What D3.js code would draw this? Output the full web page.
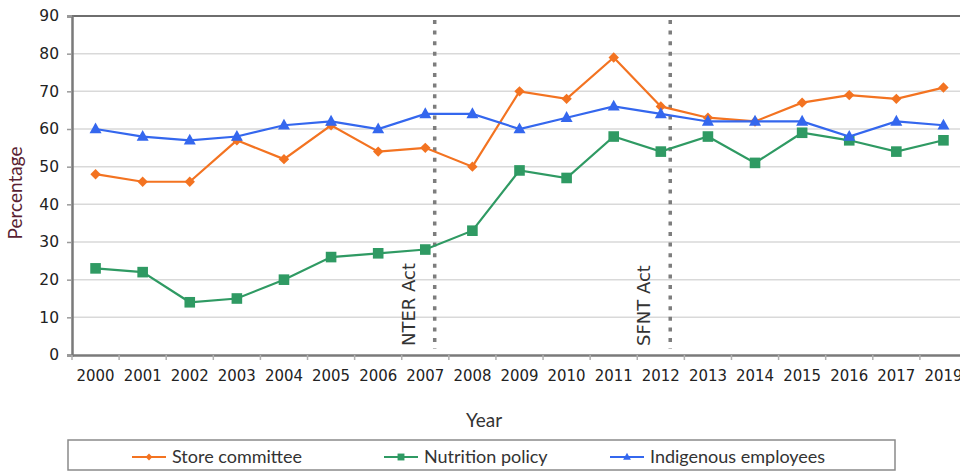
<!DOCTYPE html>
<html>
<head>
<meta charset="utf-8">
<script src="https://cdn.jsdelivr.net/npm/d3@7"></script>
<style>
  html, body { margin: 0; padding: 0; background: #fff; }
  svg { display: block; }
</style>
</head>
<body>
<svg id="chart" width="960" height="472"></svg>
<script>
const years = ["2000","2001","2002","2003","2004","2005","2006","2007","2008","2009","2010","2011","2012","2013","2014","2015","2016","2017","2019"];
const storeCommittee = [48,46,46,57,52,61,54,55,50,70,68,79,66,63,62,67,69,68,71];
const nutritionPolicy = [23,22,14,15,20,26,27,28,33,49,47,58,54,58,51,59,57,54,57];
const indigenousEmployees = [60,58,57,58,61,62,60,64,64,60,63,66,64,62,62,62,58,62,61];
const yTicks = [0,10,20,30,40,50,60,70,80,90];
const events = [{year: "2007", label: "NTER Act"}, {year: "2012", label: "SFNT Act"}];
const seriesNames = ["Store committee", "Nutrition policy", "Indigenous employees"];

const series = [
  {name: seriesNames[0], values: storeCommittee, color: "#f37321", marker: "diamond"},
  {name: seriesNames[1], values: nutritionPolicy, color: "#2f9a63", marker: "square"},
  {name: seriesNames[2], values: indigenousEmployees, color: "#3467ee", marker: "triangle"}
];

const svg = d3.select("#chart");
const pL = 72, pT = 16, pR = 967, pB = 355;

const x = d3.scaleBand().domain(years).range([pL, pR]).padding(0);
const y = d3.scaleLinear().domain([0, 90]).range([pB, pT]);

// gridlines
svg.append("g").selectAll("line").data(yTicks.filter(d => d > 0 && d < 90)).join("line")
  .attr("x1", pL).attr("x2", 960)
  .attr("y1", d => y(d)).attr("y2", d => y(d))
  .attr("stroke", "#d9d9d9").attr("stroke-width", 1.5);

// top border
svg.append("line").attr("x1", pL).attr("x2", 960).attr("y1", y(90)).attr("y2", y(90))
  .attr("stroke", "#6e6e6e").attr("stroke-width", 2);

// y axis
const yAxis = d3.axisLeft(y).tickValues(yTicks).tickSize(5).tickPadding(8);
const gy = svg.append("g").attr("transform", `translate(${pL},0)`).call(yAxis);
gy.select(".domain").attr("stroke", "#7a7a7a").attr("stroke-width", 2.5);
gy.selectAll(".tick line").attr("stroke", "#9a9a9a").attr("stroke-width", 1.5);
gy.selectAll(".tick text").attr("font-family", "DejaVu Sans").attr("font-size", 15.5).attr("fill", "#222");

// x axis
const xAxis = d3.axisBottom(x).tickSize(0).tickPadding(15);
const gx = svg.append("g").attr("transform", `translate(0,${pB})`).call(xAxis);
gx.select(".domain").attr("stroke", "#7a7a7a").attr("stroke-width", 2.5);
gx.selectAll(".tick text").attr("font-family", "DejaVu Sans").attr("font-size", 15).attr("fill", "#222")
  .attr("textLength", 38).attr("lengthAdjust", "spacingAndGlyphs");
// boundary ticks
svg.append("g").selectAll("line").data(years).join("line")
  .attr("x1", d => x(d)).attr("x2", d => x(d))
  .attr("y1", pB).attr("y2", pB + 5)
  .attr("stroke", "#b0b0b0").attr("stroke-width", 1.5);

// event lines
events.forEach(ev => {
  const ex = x(ev.year) + x.bandwidth() * 0.7;
  svg.append("line").attr("x1", ex).attr("x2", ex).attr("y1", pT + 4).attr("y2", pB - 6)
    .attr("stroke", "#7d7d7d").attr("stroke-width", 3.5).attr("stroke-dasharray", "4,6.6");
  svg.append("text")
    .attr("transform", `translate(${ex - 20},${pB - 9}) rotate(-90)`)
    .attr("font-family", "DejaVu Sans").attr("font-size", 18).attr("fill", "#333")
    .text(ev.label);
});

// lines
const line = d3.line().x((d, i) => x(years[i]) + x.bandwidth() / 2).y(d => y(d));
function marker(g, type, color, cx, cy, s) {
  if (type === "diamond") {
    g.append("path").attr("d", `M${cx},${cy - s}L${cx + s},${cy}L${cx},${cy + s}L${cx - s},${cy}Z`).attr("fill", color);
  } else if (type === "square") {
    g.append("rect").attr("x", cx - s).attr("y", cy - s).attr("width", 2 * s).attr("height", 2 * s).attr("fill", color);
  } else {
    g.append("path").attr("d", `M${cx},${cy - s * 1.1}L${cx + s},${cy + s * 0.7}L${cx - s},${cy + s * 0.7}Z`).attr("fill", color);
  }
}
const sizes = {diamond: 5.2, square: 5.3, triangle: 6};
series.forEach(s => {
  svg.append("path").datum(s.values).attr("d", line)
    .attr("fill", "none").attr("stroke", s.color).attr("stroke-width", 2.2);
  const g = svg.append("g");
  s.values.forEach((v, i) => marker(g, s.marker, s.color, x(years[i]) + x.bandwidth() / 2, y(v), sizes[s.marker]));
});

// axis titles
svg.append("text").attr("transform", `translate(22,193) rotate(-90)`)
  .attr("text-anchor", "middle").attr("font-family", "Lato").attr("font-size", 19).attr("fill", "#5a1f33")
  .text("Percentage");
svg.append("text").attr("x", 484).attr("y", 427)
  .attr("text-anchor", "middle").attr("font-family", "Lato").attr("font-size", 19).attr("fill", "#333")
  .text("Year");

// legend
const lg = svg.append("g");
lg.append("rect").attr("x", 68).attr("y", 440).attr("width", 827).attr("height", 30)
  .attr("fill", "#fff").attr("stroke", "#8a8a8a").attr("stroke-width", 1.5);
const legX = [132, 384, 610];
series.forEach((s, i) => {
  const lx = legX[i], ly = 457;
  lg.append("line").attr("x1", lx).attr("x2", lx + 34).attr("y1", ly).attr("y2", ly)
    .attr("stroke", s.color).attr("stroke-width", 2);
  marker(lg, s.marker, s.color, lx + 17, ly, sizes[s.marker] * 0.65);
  lg.append("text").attr("x", lx + 40).attr("y", ly + 6)
    .attr("font-family", "Lato").attr("font-size", 18).attr("fill", "#333").text(s.name);
});
</script>
</body>
</html>
